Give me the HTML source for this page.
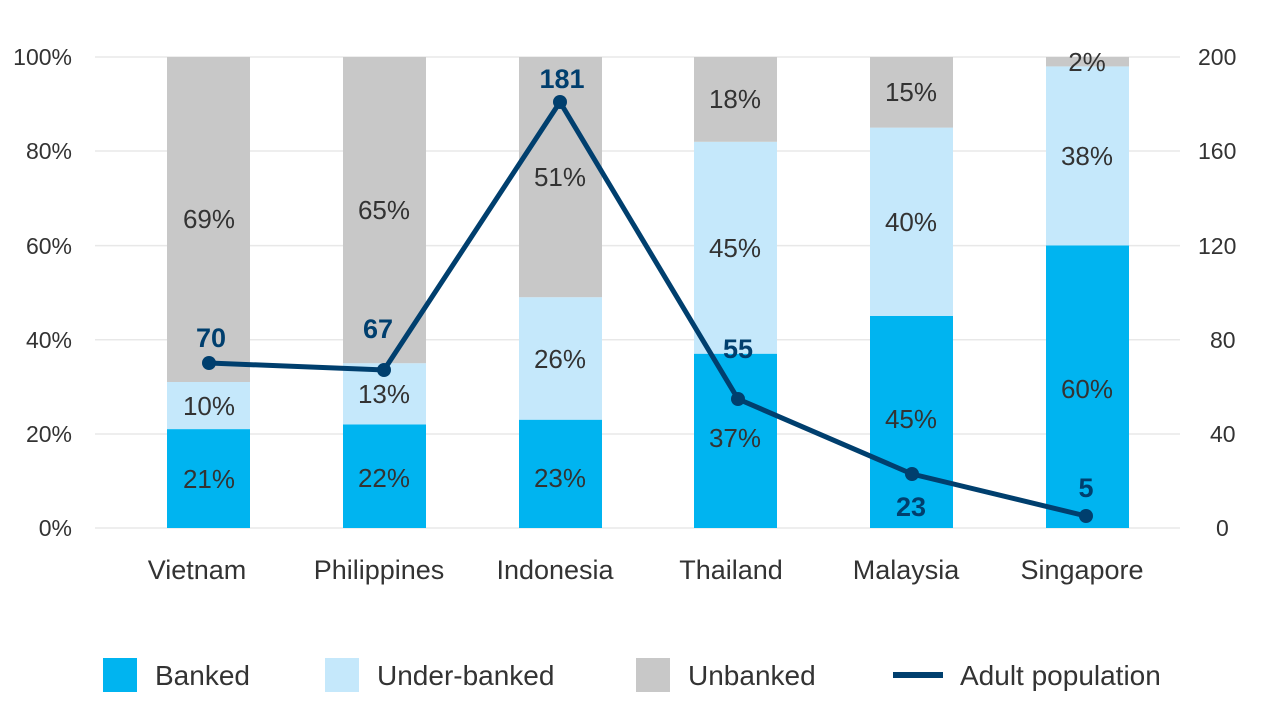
<!DOCTYPE html>
<html><head><meta charset="utf-8"><style>
html,body{margin:0;padding:0;background:#fff;width:1280px;height:720px;overflow:hidden}
text{font-family:"Liberation Sans",sans-serif;fill:#333}
</style></head><body>
<svg width="1280" height="720" xmlns="http://www.w3.org/2000/svg">
<g stroke="#e8e8e8" stroke-width="1.5">
<line x1="95" x2="1180" y1="57" y2="57"/><line x1="95" x2="1180" y1="151" y2="151"/>
<line x1="95" x2="1180" y1="245.6" y2="245.6"/><line x1="95" x2="1180" y1="339.8" y2="339.8"/>
<line x1="95" x2="1180" y1="434" y2="434"/><line x1="95" x2="1180" y1="528" y2="528"/>
</g>
<g font-size="23" text-anchor="end">
<text x="72" y="65">100%</text><text x="72" y="159">80%</text><text x="72" y="254">60%</text>
<text x="72" y="348">40%</text><text x="72" y="442">20%</text><text x="72" y="536">0%</text>
</g>
<g font-size="23" text-anchor="start">
<text x="1198" y="65">200</text><text x="1198" y="159">160</text><text x="1198" y="254">120</text>
<text x="1210" y="348">80</text><text x="1210" y="442">40</text><text x="1216" y="536">0</text>
</g>
<g>
<rect x="167" y="429.1" width="83" height="98.9" fill="#00b4f0"/><rect x="167" y="382" width="83" height="47.1" fill="#c5e8fb"/><rect x="167" y="57" width="83" height="325" fill="#c8c8c8"/>
<rect x="343" y="424.4" width="83" height="103.6" fill="#00b4f0"/><rect x="343" y="363.2" width="83" height="61.2" fill="#c5e8fb"/><rect x="343" y="57" width="83" height="306.2" fill="#c8c8c8"/>
<rect x="519" y="419.7" width="83" height="108.3" fill="#00b4f0"/><rect x="519" y="297.2" width="83" height="122.5" fill="#c5e8fb"/><rect x="519" y="57" width="83" height="240.2" fill="#c8c8c8"/>
<rect x="694" y="353.7" width="83" height="174.3" fill="#00b4f0"/><rect x="694" y="141.8" width="83" height="211.9" fill="#c5e8fb"/><rect x="694" y="57" width="83" height="84.8" fill="#c8c8c8"/>
<rect x="870" y="316" width="83" height="212" fill="#00b4f0"/><rect x="870" y="127.6" width="83" height="188.4" fill="#c5e8fb"/><rect x="870" y="57" width="83" height="70.6" fill="#c8c8c8"/>
<rect x="1046" y="245.4" width="83" height="282.6" fill="#00b4f0"/><rect x="1046" y="66.4" width="83" height="179" fill="#c5e8fb"/><rect x="1046" y="57" width="83" height="9.4" fill="#c8c8c8"/>
</g>
<g font-size="26" text-anchor="middle">
<text x="209" y="488">21%</text><text x="209" y="415">10%</text><text x="209" y="228">69%</text>
<text x="384" y="487">22%</text><text x="384" y="403">13%</text><text x="384" y="219">65%</text>
<text x="560" y="487">23%</text><text x="560" y="368">26%</text><text x="560" y="186">51%</text>
<text x="735" y="447">37%</text><text x="735" y="257">45%</text><text x="735" y="108">18%</text>
<text x="911" y="428">45%</text><text x="911" y="231">40%</text><text x="911" y="101">15%</text>
<text x="1087" y="398">60%</text><text x="1087" y="165">38%</text><text x="1087" y="71">2%</text>
</g>
<polyline points="209,363 384,370 560,102 738,399 912,474 1086,516" fill="none" stroke="#003f6e" stroke-width="5" stroke-linejoin="round"/>
<g fill="#003f6e">
<circle cx="209" cy="363" r="7"/><circle cx="384" cy="370" r="7"/><circle cx="560" cy="102" r="7"/>
<circle cx="738" cy="399" r="7"/><circle cx="912" cy="474" r="7"/><circle cx="1086" cy="516" r="7"/>
</g>
<g font-size="27" text-anchor="middle" font-weight="bold">
<text x="211" y="347" style="fill:#003f6e">70</text><text x="378" y="338" style="fill:#003f6e">67</text>
<text x="562" y="88" style="fill:#003f6e">181</text><text x="738" y="358" style="fill:#003f6e">55</text>
<text x="911" y="516" style="fill:#003f6e">23</text><text x="1086" y="497" style="fill:#003f6e">5</text>
</g>
<g font-size="27" text-anchor="middle">
<text x="197" y="579">Vietnam</text><text x="379" y="579">Philippines</text><text x="555" y="579">Indonesia</text>
<text x="731" y="579">Thailand</text><text x="906" y="579">Malaysia</text><text x="1082" y="579">Singapore</text>
</g>
<rect x="103" y="658" width="34" height="34" fill="#00b4f0"/>
<rect x="325" y="658" width="34" height="34" fill="#c5e8fb"/>
<rect x="636" y="658" width="34" height="34" fill="#c8c8c8"/>
<line x1="893" x2="943" y1="675" y2="675" stroke="#003f6e" stroke-width="6"/>
<g font-size="28">
<text x="155" y="685">Banked</text><text x="377" y="685">Under-banked</text>
<text x="688" y="685">Unbanked</text><text x="960" y="685">Adult population</text>
</g>
</svg>
</body></html>
